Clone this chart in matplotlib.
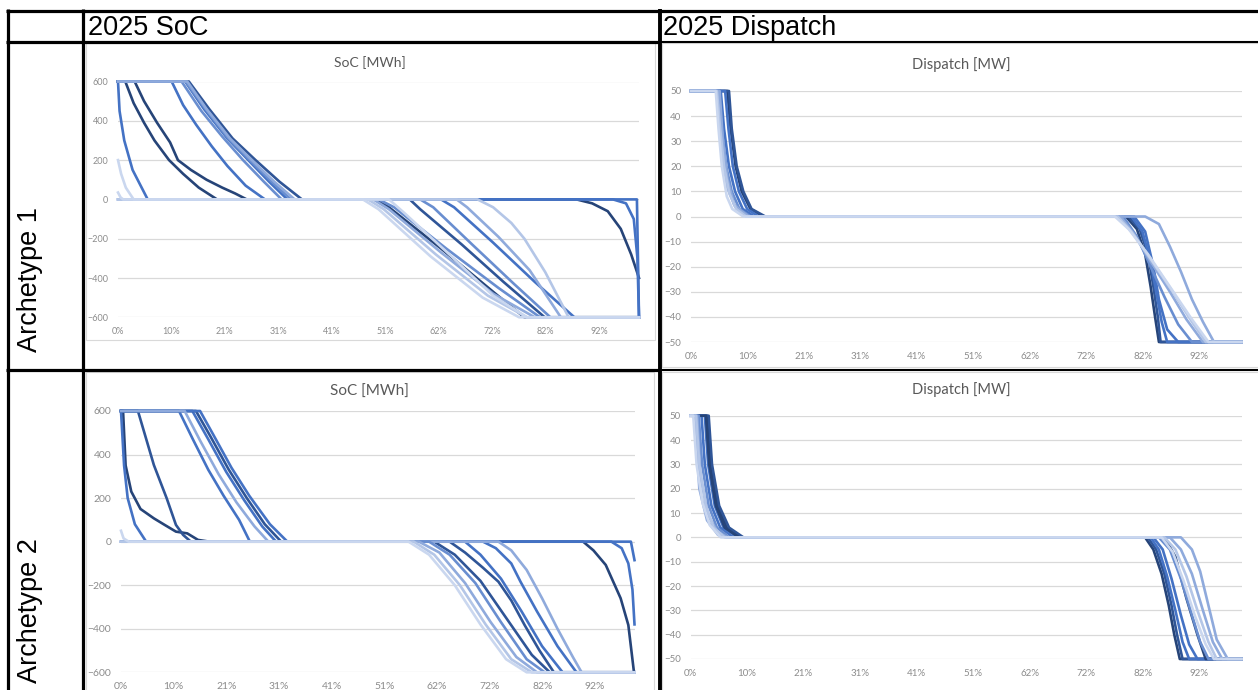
import numpy as np
import matplotlib
matplotlib.use('Agg')
import matplotlib.pyplot as plt
from matplotlib.lines import Line2D
from matplotlib.patches import Rectangle

W, H = 1258, 690

# paleta monocromatica azul (tipo Excel)
NAVY = '#264478'
DKBLUE = '#2f5597'
BLUE = '#4472c4'
MIDBLUE = '#698ed0'
LTBLUE = '#8faadc'
PALE = '#b4c6e7'
PALEST = '#cad7ef'

# textos de la tabla
col_titles = ['2025 SoC', '2025 Dispatch']
row_titles = ['Archetype 1', 'Archetype 2']
soc_title = 'SoC [MWh]'
disp_title = 'Dispatch [MW]'

# eje de categorias: 40 puntos, etiqueta cada 4
n_cat = 40
x_labels = ['0%', '10%', '21%', '31%', '41%', '51%', '62%', '72%', '82%', '92%']
soc_ticks = [-600, -400, -200, 0, 200, 400, 600]
disp_ticks = [-50, -40, -30, -20, -10, 0, 10, 20, 30, 40, 50]

# curvas (x en %, y)
soc1_col = [NAVY, NAVY, BLUE, BLUE, DKBLUE, BLUE, MIDBLUE, MIDBLUE, LTBLUE,
            LTBLUE, PALE, PALE, PALEST, PALEST]
soc1_pts = [
    [(0, 600), (1.4, 600), (3, 490), (5, 390), (7, 300), (9.8, 200), (12.5, 130), (15.5, 60), (19, 0),
     (88, 0), (91, -20), (94, -60), (96.5, -150), (98.5, -280), (100, -400)],
    [(0, 600), (3.2, 600), (5, 500), (7.5, 390), (10, 290), (11.5, 200), (14, 150), (17, 100), (20, 60),
     (22.5, 30), (24.7, 0), (49.5, 0), (52, -40), (62, -250), (72, -470), (78, -600), (100, -600)],
    [(0, 600), (0.3, 450), (1.2, 300), (2.8, 150), (5.7, 0), (99.6, 0), (100, -600)],
    [(0, 600), (10.3, 600), (12.5, 480), (15, 380), (18, 270), (21, 170), (24.5, 70), (28.2, 0),
     (95, 0), (97.5, -20), (99, -100), (99.7, -300), (100, -600)],
    [(0, 600), (13.6, 600), (17.5, 460), (22, 310), (26.4, 200), (31, 90), (35.3, 0),
     (56, 0), (58, -50), (66, -230), (74, -420), (81.9, -600), (100, -600)],
    [(0, 600), (12.9, 600), (16.5, 460), (21, 310), (25, 200), (29, 90), (32.5, 0),
     (62, 0), (64.5, -40), (72, -220), (80, -420), (87.6, -600), (100, -600)],
    [(0, 600), (12.2, 600), (16, 450), (20, 320), (24, 200), (28, 90), (31.4, 0),
     (50, 0), (53, -40), (63, -250), (73, -450), (81, -600), (100, -600)],
    [(0, 600), (13.0, 600), (16.8, 460), (21.2, 310), (25.3, 200), (29.5, 90), (33.2, 0),
     (58, 0), (60.5, -40), (68, -230), (76, -430), (83, -600), (100, -600)],
    [(0, 600), (13.3, 600), (17, 460), (21.5, 310), (25.7, 200), (30, 90), (33.9, 0),
     (49, 0), (52, -50), (62, -270), (72, -480), (80, -600), (100, -600)],
    [(0, 0), (65, 0), (67, -40), (73, -190), (79, -360), (85, -600), (100, -600)],
    [(0, 0), (69, 0), (72, -40), (75.5, -120), (78, -200), (82, -370), (86.5, -600), (100, -600)],
    [(0, 0), (48, 0), (51, -50), (61, -280), (71, -490), (78.5, -600), (100, -600)],
    [(0, 200), (0.6, 130), (1.5, 60), (3, 0), (47, 0), (50, -50), (60, -290), (70, -500), (77, -600), (100, -600)],
    [(0, 35), (0.5, 10), (1, 0), (52, 0), (55, -70), (64, -290), (72, -490), (78.5, -600), (100, -600)],
]

soc2_col = [NAVY, DKBLUE, BLUE, BLUE, BLUE, DKBLUE, BLUE, LTBLUE, MIDBLUE, LTBLUE, PALE, PALEST]
soc2_pts = [
    [(0, 600), (0.4, 600), (0.9, 350), (2, 230), (3.8, 150), (6.4, 107), (8.5, 77), (10.7, 46), (12.9, 38),
     (15, 8), (17.2, 0), (90, 0), (92, -40), (94.4, -107), (97.3, -260), (98.8, -383), (99.9, -600), (100, -600)],
    [(0, 600), (3.3, 600), (6.4, 352), (8.9, 199), (10.7, 77), (12.1, 31), (13.6, 0),
     (64, 0), (67, -50), (70.5, -120), (73.5, -184), (76, -270), (78.6, -383), (81.5, -500), (84.3, -600), (100, -600)],
    [(0, 600), (0.6, 350), (1.3, 200), (2.7, 80), (4.9, 0), (95.5, 0), (97.5, -30), (98.8, -100), (99.6, -220), (100, -380)],
    [(0, 600), (11.3, 600), (14, 470), (17, 330), (20, 210), (23, 100), (25.1, 0),
     (70.5, 0), (73, -30), (76, -100), (77.8, -184), (81, -320), (85, -480), (88.7, -600), (100, -600)],
    [(0, 600), (13.9, 600), (17, 470), (20.5, 320), (24, 190), (27.5, 70), (30.2, 0), (99.3, 0), (100, -85)],
    [(0, 600), (14.6, 600), (17.5, 480), (21, 330), (24.5, 200), (28, 80), (31.2, 0),
     (61, 0), (65, -60), (70, -180), (75, -350), (80, -520), (83.5, -600), (100, -600)],
    [(0, 600), (15.4, 600), (18, 490), (21.5, 340), (25, 210), (29, 80), (32.4, 0),
     (67, 0), (70, -60), (74, -170), (78, -320), (82, -480), (86, -600), (100, -600)],
    [(0, 600), (12.4, 600), (15.5, 460), (19, 310), (22.5, 180), (26, 70), (28.7, 0),
     (73.5, 0), (76, -40), (79, -130), (82, -260), (85, -400), (88, -530), (89.7, -600), (100, -600)],
    [(0, 0), (60, 0), (64, -60), (69, -190), (74, -370), (79, -540), (82.5, -600), (100, -600)],
    [(0, 0), (58, 0), (62, -50), (67, -190), (72, -370), (77, -530), (81, -600), (100, -600)],
    [(0, 0), (57, 0), (61, -60), (66, -200), (71, -380), (76, -540), (80, -600), (100, -600)],
    [(0, 50), (0.5, 15), (1.5, 0), (56, 0), (60, -60), (65, -200), (70, -380), (75, -540), (79, -600), (100, -600)],
]

disp1_col = [NAVY, DKBLUE, BLUE, BLUE, MIDBLUE, LTBLUE, LTBLUE, PALE, PALEST]
disp1_pts = [
    [(0, 50), (6.6, 50), (7.2, 35), (8.1, 20), (9.2, 10), (10.8, 3), (13.2, 0),
     (79, 0), (81, -5), (82.5, -15), (83.5, -28), (84.3, -40), (85, -50), (100, -50)],
    [(0, 50), (6.9, 50), (7.4, 35), (8.3, 20), (9.5, 10), (11, 3), (13.5, 0),
     (79.5, 0), (81.5, -5), (83, -15), (84, -28), (84.8, -40), (85.3, -50), (100, -50)],
    [(0, 50), (6.2, 50), (6.8, 35), (7.6, 20), (8.7, 10), (10.2, 3), (12.3, 0),
     (80, 0), (82, -6), (83.5, -18), (84.5, -30), (85.5, -42), (86.5, -50), (100, -50)],
    [(0, 50), (5.4, 50), (6, 35), (6.9, 20), (8, 10), (9.4, 3), (11.5, 0),
     (80.5, 0), (82.5, -6), (84, -20), (85, -33), (86.5, -45), (88.5, -50), (100, -50)],
    [(0, 50), (5.0, 50), (5.6, 35), (6.4, 20), (7.4, 10), (8.8, 3), (10.8, 0),
     (78.5, 0), (81, -8), (83.5, -20), (86, -32), (88.5, -43), (91, -50), (100, -50)],
    [(0, 50), (4.9, 50), (5.4, 30), (6.5, 12), (8, 4), (10.5, 0),
     (78, 0), (80.5, -7), (83.5, -18), (87, -30), (90, -41), (93, -50), (100, -50)],
    [(0, 50), (5.2, 50), (5.8, 30), (6.6, 15), (7.8, 5), (10, 0),
     (82.5, 0), (85, -3), (87, -12), (89, -22), (91, -33), (93, -42), (95, -50), (100, -50)],
    [(0, 50), (4.7, 50), (5.3, 35), (6, 20), (7, 9), (8.2, 3), (10, 0),
     (77.5, 0), (80, -6), (83.5, -17), (87.5, -30), (91, -42), (93.5, -50), (100, -50)],
    [(0, 50), (4.5, 50), (5, 35), (5.6, 20), (6.5, 8), (7.5, 3), (9.5, 0),
     (77, 0), (79.5, -5), (83, -15), (87, -28), (91, -41), (94, -50), (100, -50)],
]

disp2_col = [NAVY, DKBLUE, BLUE, BLUE, NAVY, MIDBLUE, LTBLUE, LTBLUE, PALE, PALEST]
disp2_pts = [
    [(0, 50), (3.0, 50), (3.6, 30), (4.9, 13), (6.6, 4), (9.2, 0),
     (82.5, 0), (84, -5), (85.5, -15), (86.8, -28), (87.8, -40), (88.8, -50), (100, -50)],
    [(0, 50), (3.3, 50), (3.9, 30), (5.2, 13), (7, 4), (9.6, 0),
     (83, 0), (84.5, -5), (86, -15), (87.3, -28), (88.3, -40), (89.3, -50), (100, -50)],
    [(0, 50), (2.6, 50), (3.2, 30), (4.4, 13), (6, 4), (8.6, 0),
     (83.5, 0), (85, -5), (86.5, -16), (88, -30), (89.3, -43), (90.5, -50), (100, -50)],
    [(0, 50), (2, 50), (2.6, 30), (3.8, 13), (5.4, 4), (7.8, 0),
     (84, 0), (85.7, -5), (87.3, -17), (89, -32), (90.5, -44), (92, -50), (100, -50)],
    [(0, 50), (2.8, 50), (3.4, 30), (4.6, 13), (6.2, 4), (8.8, 0),
     (86, 0), (88, -8), (90, -25), (92, -40), (93.5, -50), (100, -50)],
    [(0, 50), (1.5, 50), (2.1, 30), (3.3, 13), (4.8, 4), (7, 0),
     (85, 0), (87, -5), (89, -17), (91, -32), (92.5, -43), (94, -50), (100, -50)],
    [(0, 50), (0.8, 50), (1.6, 20), (3, 7), (5, 1), (6.5, 0),
     (89, 0), (91, -5), (92.5, -14), (94, -28), (95.5, -42), (97.5, -50), (100, -50)],
    [(0, 50), (1.2, 50), (1.8, 25), (3.2, 9), (5, 2), (6.8, 0),
     (87, 0), (89, -5), (91, -15), (93, -30), (94.8, -43), (96.5, -50), (100, -50)],
    [(0, 50), (1, 50), (1.6, 30), (2.8, 13), (4.2, 4), (6.2, 0),
     (86, 0), (88, -5), (90, -16), (92, -30), (94, -43), (95.5, -50), (100, -50)],
    [(0, 50), (0.5, 50), (1.1, 30), (2.2, 14), (3.5, 5), (5.5, 0),
     (85.5, 0), (87.5, -6), (89.5, -18), (91.5, -32), (93.5, -44), (95, -50), (100, -50)],
]

fig = plt.figure(figsize=(W / 100, H / 100), dpi=100)
fig.patch.set_facecolor('white')


def fx(x):
    return x / W


def fy(y):
    return 1 - y / H


def caja(x0, y0, x1, y1):
    # borde gris claro del area del grafico
    fig.add_artist(Rectangle((fx(x0), fy(y1)), fx(x1 - x0), (y1 - y0) / H, fill=False,
                             edgecolor='#d9d9d9', linewidth=0.8))


def panel(rect, pts, cols, yticks, title, title_xy, fs_tick, fs_title):
    x0, y0, x1, y1 = rect
    ax = fig.add_axes([fx(x0), fy(y1), fx(x1 - x0), (y1 - y0) / H])
    for p, c in zip(pts, cols):
        xs = [q[0] for q in p]
        ys = [q[1] for q in p]
        ax.plot(xs, ys, color=c, lw=1.9, clip_on=False, solid_joinstyle='round')
    ax.set_xlim(0, 100)
    ax.set_ylim(yticks[0], yticks[-1])
    ax.set_yticks(yticks)
    ax.set_xticks(np.arange(0, n_cat, 4) / (n_cat - 1) * 100)
    ax.set_xticklabels(x_labels)
    ax.grid(axis='y', color='#d9d9d9', lw=0.9)
    ax.set_axisbelow(True)
    for s in ax.spines.values():
        s.set_visible(False)
    ax.tick_params(length=0, labelsize=fs_tick, labelcolor='#8c8c8c', pad=7)
    for t in ax.get_xticklabels() + ax.get_yticklabels():
        t.set_family('Lato')
    fig.text(fx(title_xy[0]), fy(title_xy[1]), title, family='Lato', fontsize=fs_title,
             color='#595959', ha='center', va='center')
    return ax


caja(86, 43, 655, 340)
caja(662, 43, 1262, 367)
caja(86, 372, 654, 700)
caja(662, 372, 1262, 700)

panel((118, 81.5, 639, 317.3), soc1_pts, soc1_col, soc_ticks, soc_title, (370, 63), 6.5, 10)
panel((691, 91, 1241.5, 342), disp1_pts, disp1_col, disp_ticks, disp_title, (961, 65), 7, 10.5)
panel((121, 411, 634.5, 672.3), soc2_pts, soc2_col, soc_ticks, soc_title, (369, 392), 7.5, 11)
panel((690.5, 415.7, 1241.5, 659), disp2_pts, disp2_col, disp_ticks, disp_title, (961, 390), 7, 10.5)

# lineas de la tabla
def linea(xa, ya, xb, yb, w):
    fig.add_artist(Line2D([fx(xa), fx(xb)], [fy(ya), fy(yb)], color='black', lw=w,
                          solid_capstyle='butt'))


linea(6, 10.5, W, 10.5, 2.3)
linea(7.5, 9, 7.5, H, 2.3)
linea(82.5, 9, 82.5, H, 2.3)
linea(660, 9, 660, H, 2.8)
linea(6, 42, 660, 42, 2.3)
linea(660, 42, W, 42, 1.5)
linea(6, 370, 660, 370, 2.3)
linea(660, 370, W, 370, 1.5)

fig.text(fx(88), fy(28), col_titles[0], family='Liberation Sans', fontsize=19.5, ha='left', va='center')
fig.text(fx(663), fy(28), col_titles[1], family='Liberation Sans', fontsize=19.5, ha='left', va='center')
fig.text(fx(30), fy(352), row_titles[0], family='Liberation Sans', fontsize=19.5, rotation=90,
         ha='center', va='bottom')
fig.text(fx(30), fy(683), row_titles[1], family='Liberation Sans', fontsize=19.5, rotation=90,
         ha='center', va='bottom')

fig.savefig('out.png', dpi=100)
